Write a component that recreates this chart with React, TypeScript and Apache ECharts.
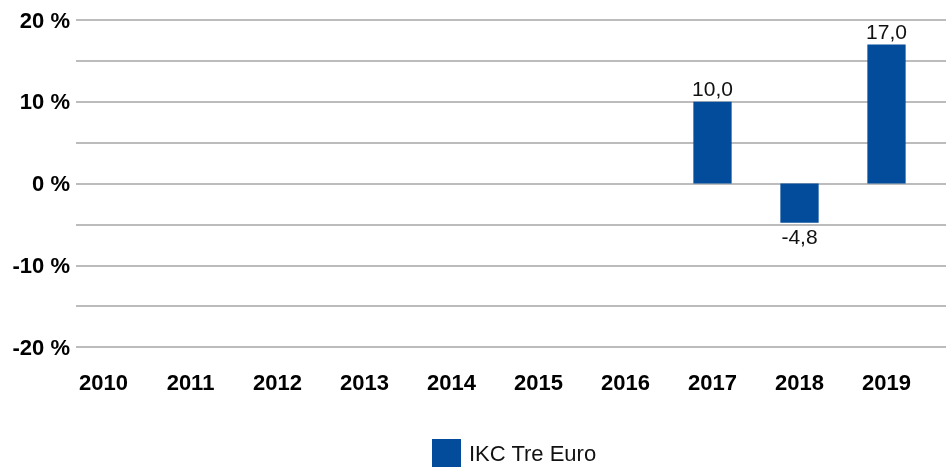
import React, { useEffect, useRef } from "react";
import * as echarts from "echarts";

const categories = ["2010", "2011", "2012", "2013", "2014", "2015", "2016", "2017", "2018", "2019"];
const seriesName = "IKC Tre Euro";
const values: (number | null)[] = [null, null, null, null, null, null, null, 10.0, -4.8, 17.0];
const yMin = -20;
const yMax = 20;
const yStep = 5;

export default function App() {
  const ref = useRef<HTMLDivElement>(null);
  useEffect(() => {
    if (!ref.current) return;
    const chart = echarts.init(ref.current, undefined, { renderer: "svg" });
    const font = "'Liberation Sans', Arial, sans-serif";
    chart.setOption({
      animation: false,
      textStyle: { fontFamily: font },
      grid: [
        { left: 76, right: 0, top: 20, bottom: 121, containLabel: false },
        { left: 60, right: 16, top: 20, bottom: 121, containLabel: false },
      ],
      legend: {
        top: 439,
        left: 432,
        padding: 0,
        itemWidth: 29,
        itemHeight: 28,
        itemGap: 12,
        icon: "rect",
        textStyle: { fontSize: 22, lineHeight: 26, color: "#111", fontFamily: font, padding: [0, 0, 0, 3] },
        data: [seriesName],
      },
      xAxis: [
        { type: "category", gridIndex: 0, data: categories, show: false },
        {
          type: "category",
          gridIndex: 1,
          data: categories,
          axisLine: { show: false },
          axisTick: { show: false },
          axisLabel: { fontSize: 22, fontWeight: "bold", color: "#000", margin: 24, fontFamily: font },
        },
      ],
      yAxis: [
        {
          type: "value",
          gridIndex: 0,
          min: yMin,
          max: yMax,
          interval: yStep,
          axisLine: { show: false },
          axisTick: { show: false },
          splitLine: { lineStyle: { color: "#a6a6a6", width: 1.5 } },
          axisLabel: {
            fontSize: 22,
            fontWeight: "bold",
            color: "#000",
            margin: 6,
            fontFamily: font,
            formatter: (v: number) => (v % 10 === 0 ? `${v} %` : ""),
          },
        },
        {
          type: "value",
          gridIndex: 1,
          min: yMin,
          max: yMax,
          interval: yStep,
          show: false,
          splitLine: { show: false },
        },
      ],
      series: [
        {
          name: seriesName,
          type: "bar",
          xAxisIndex: 1,
          yAxisIndex: 1,
          data: values.map((v) =>
            v != null && v < 0 ? { value: v, label: { position: "bottom" } } : v
          ),
          barWidth: "44%",
          itemStyle: { color: "#034c9b" },
          label: {
            show: true,
            position: "top",
            fontSize: 21,
            color: "#111",
            fontFamily: font,
            distance: 3,
            formatter: (p: any) => (p.value == null ? "" : Number(p.value).toFixed(1).replace(".", ",")),
          },
        },
      ],
    });
    return () => chart.dispose();
  }, []);
  return (
    <div
      ref={ref}
      style={{ position: "fixed", left: 0, top: 0, width: 946, height: 468 }}
    />
  );
}
